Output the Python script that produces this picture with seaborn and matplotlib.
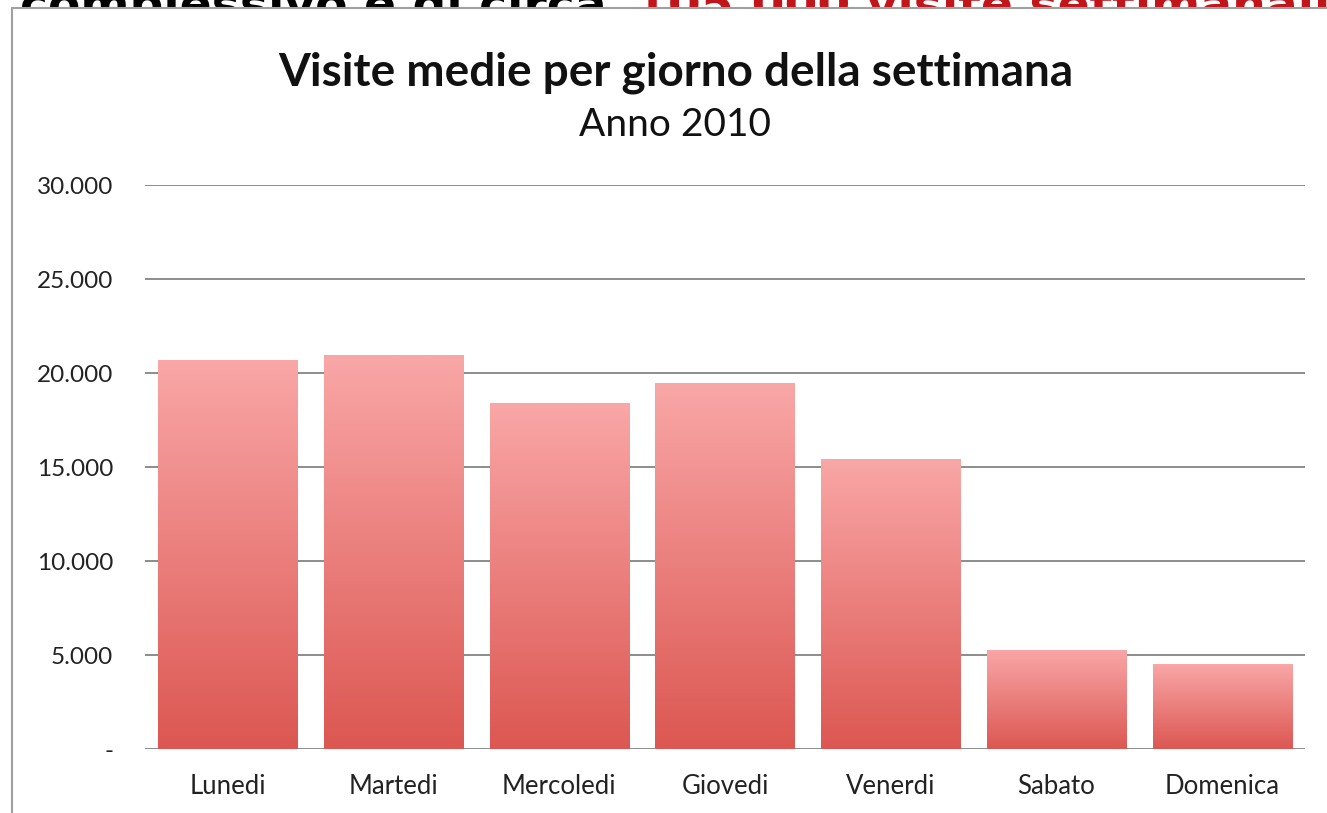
import numpy as np
import pandas as pd
import matplotlib
matplotlib.use("Agg")
import matplotlib.pyplot as plt
from matplotlib.colors import LinearSegmentedColormap
from matplotlib.lines import Line2D
from matplotlib.patches import Rectangle
from matplotlib.ticker import FuncFormatter
import seaborn as sns

giorni = ["Lunedi", "Martedi", "Mercoledi", "Giovedi", "Venerdi", "Sabato", "Domenica"]
visite = [20700, 20950, 18400, 19450, 15430, 5270, 4520]
y_ticks = [0, 5000, 10000, 15000, 20000, 25000, 30000]

df = pd.DataFrame({"giorno": giorni, "visite": visite})

sns.set_theme(style="white")
plt.rcParams["font.family"] = ["Lato", "DejaVu Sans"]

fig = plt.figure(figsize=(13.27, 8.13), dpi=100)
ax = fig.add_axes([0.1093, 0.0787, 0.8741, 0.6937])

sns.barplot(data=df, x="giorno", y="visite", width=0.84, color="#e87b78",
            saturation=1, ax=ax)

# gradient fill for each bar (light top, darker bottom)
cmap = LinearSegmentedColormap.from_list("rosso", ["#dc5752", "#f9a7a7"])
grad = np.linspace(0, 1, 256).reshape(-1, 1)
for bar in ax.patches:
    x0, y0 = bar.get_x(), bar.get_y()
    w, h = bar.get_width(), bar.get_height()
    im = ax.imshow(grad, cmap=cmap, aspect="auto", origin="lower",
                   extent=[x0, x0 + w, y0, y0 + h], zorder=2)
    im.set_clip_path(bar)
    bar.set_facecolor("none")
    bar.set_edgecolor("none")

ax.set_xlim(-0.5, len(giorni) - 0.5)
ax.set_ylim(0, 30000)
ax.set_yticks(y_ticks)
ax.yaxis.set_major_formatter(
    FuncFormatter(lambda v, p: "-" if v == 0 else f"{int(v):,}".replace(",", ".")))
ax.yaxis.grid(True, color="#8c8c8c", linewidth=1.4)
ax.set_axisbelow(True)
for s in ["top", "right", "left", "bottom"]:
    ax.spines[s].set_visible(False)
ax.tick_params(axis="y", labelsize=17.5, colors="#222222", pad=23, length=0)
ax.tick_params(axis="x", labelsize=18.5, colors="#222222", pad=18, length=0)
ax.set_xlabel("")
ax.set_ylabel("")

fig.text(0.509, 0.911, "Visite medie per giorno della settimana",
         ha="center", va="center", fontsize=33, fontweight="bold", color="#111111")
fig.text(0.509, 0.846, "Anno 2010", ha="center", va="center", fontsize=28,
         color="#111111")

# slide frame and cut-off heading above the chart
frame_y = 1 - 8 / 813
fig.text(0.015, 1 - 20 / 813, "complessivo è di circa", ha="left", va="baseline",
         fontsize=34, fontweight="bold", color="black", zorder=-3,
         family="DejaVu Sans")
fig.text(0.4785, 1 - 20 / 813, "105.000 visite settimanali", ha="left",
         va="baseline", fontsize=34, fontweight="bold", color="#c0151b",
         zorder=-3, family="DejaVu Sans")
fig.add_artist(Rectangle((0.009, 0), 0.991, frame_y, transform=fig.transFigure,
                         facecolor="white", edgecolor="none", zorder=-2))
fig.add_artist(Line2D([0.009, 0.009], [0, frame_y], color="#a0a0a0", linewidth=1.5))
fig.add_artist(Line2D([0.009, 1.0], [frame_y, frame_y], color="#a0a0a0", linewidth=1.5))

fig.savefig("out.png", dpi=100, facecolor="white")
